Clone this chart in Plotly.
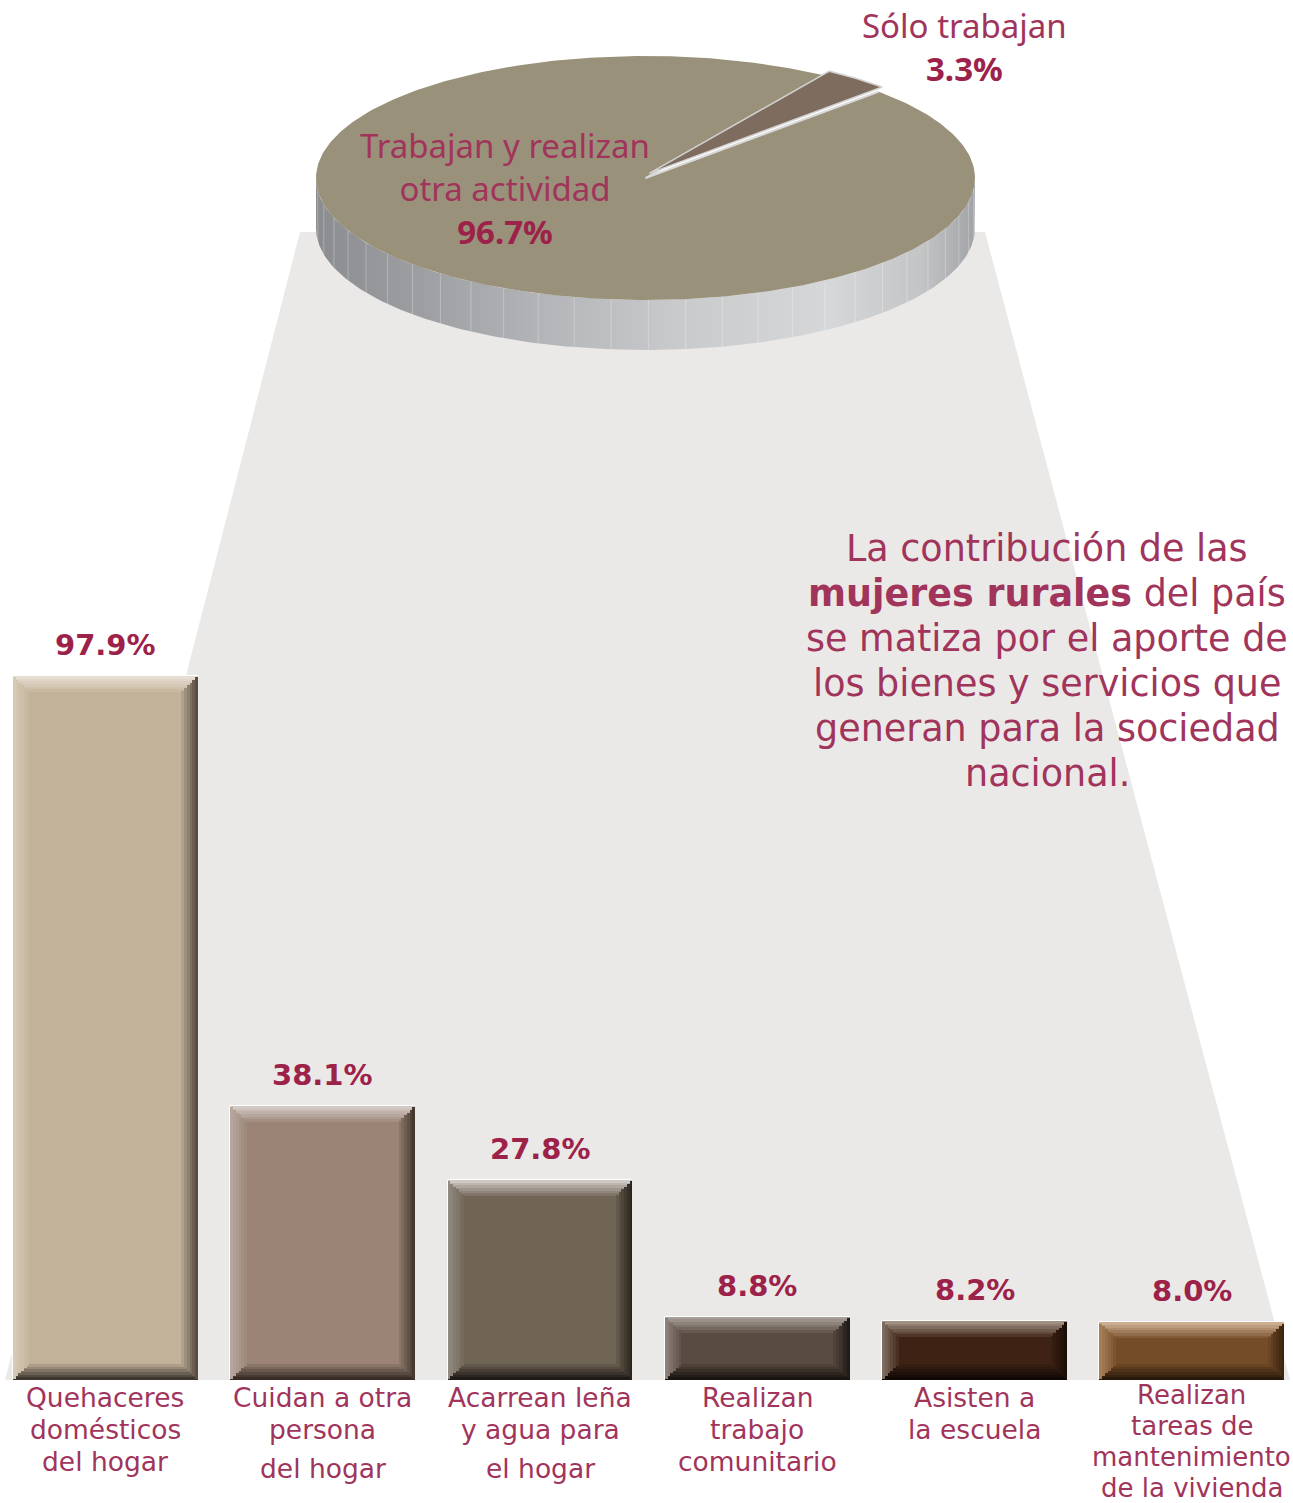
import numpy as np
import plotly.graph_objects as go

W, H = 1293, 1503

# ---------------- data ----------------
pie_labels = ["Trabajan y realizan otra actividad", "Sólo trabajan"]
pie_values = [96.7, 3.3]
pie_text_main = ["Trabajan y realizan", "otra actividad"]
pie_text_small = ["Sólo trabajan"]

categories = [
    "Quehaceres domésticos del hogar",
    "Cuidan a otra persona del hogar",
    "Acarrean leña y agua para el hogar",
    "Realizan trabajo comunitario",
    "Asisten a la escuela",
    "Realizan tareas de mantenimiento de la vivienda",
]
category_lines = [
    ["Quehaceres", "domésticos", "del hogar"],
    ["Cuidan a otra", "persona", "del hogar"],
    ["Acarrean leña", "y agua para", "el hogar"],
    ["Realizan", "trabajo", "comunitario"],
    ["Asisten a", "la escuela"],
    ["Realizan", "tareas de", "mantenimiento", "de la vivienda"],
]
values = [97.9, 38.1, 27.8, 8.8, 8.2, 8.0]
value_labels = ["97.9%", "38.1%", "27.8%", "8.8%", "8.2%", "8.0%"]

paragraph_lines = [
    "La contribución de las",
    "<b>mujeres rurales</b> del país",
    "se matiza por el aporte de",
    "los bienes y servicios que",
    "generan para la sociedad",
    "nacional.",
]

# ---------------- styles ----------------
MAROON = "#9c2249"
MAROON_L = "#a1345b"
GRAY_BG = "#ebe9e7"

bar_base = ["#c2b299", "#9b8476", "#706455", "#594b41", "#3e2314", "#744c28"]
bar_top = ["#e6ded2", "#d3c9c4", "#cdc8c3", "#a89f98", "#a09083", "#cbad90"]
bar_left = ["#d6cab6", "#b6a69d", "#918a80", "#8c817a", "#7e6c60", "#a47d59"]
bar_right = ["#574d42", "#44382f", "#2b251f", "#221c18", "#1a0e07", "#3c240f"]
bar_bottom = ["#3e3630", "#372c26", "#1f1a16", "#19140f", "#0f0703", "#29190a"]


def hex2rgb(h):
    h = h.lstrip("#")
    return np.array([int(h[i:i + 2], 16) for i in (0, 2, 4)], dtype=float)


def mix(c1, c2, t):
    a, b = hex2rgb(c1), hex2rgb(c2)
    c = a + (b - a) * t
    return "rgb(%d,%d,%d)" % tuple(np.round(c).astype(int))


fig = go.Figure()

# ---------------- pie (3D-looking ellipse) ----------------
CX, CY, RX, RY, DEPTH = 645.5, 178.0, 329.5, 122.0, 50.0
START = 45.0
spans = [v / sum(pie_values) * 360.0 for v in pie_values]
small_a0 = START
small_a1 = START + spans[1]
main_a0 = small_a1
main_a1 = START + 360.0


def ept(theta, ox=0.0, oy=0.0, dy=0.0):
    t = np.radians(theta)
    return CX + ox + RX * np.cos(t), CY + oy - RY * np.sin(t) + dy


# side (front half)
th = np.linspace(180, 360, 181)
sx_top, sy_top = ept(th)
sx_bot, sy_bot = ept(th[::-1], dy=DEPTH)
fig.add_trace(go.Scatter(
    x=np.concatenate([sx_top, sx_bot]), y=np.concatenate([sy_top, sy_bot]),
    fill="toself", mode="lines", line=dict(width=0),
    fillgradient=dict(type="horizontal", colorscale=[
        [0, "#8b8c90"], [0.35, "#b4b5b8"], [0.55, "#c9cacc"], [0.78, "#d6d7d9"],
        [0.92, "#c3c4c6"], [1, "#a2a3a6"]]),
    hoverinfo="skip", showlegend=False, xaxis="x", yaxis="y"))

# side stripes
st_x, st_y = [], []
for t in np.arange(186, 360, 6.5):
    x0, y0 = ept(t)
    st_x += [x0, x0, None]
    st_y += [y0, y0 + DEPTH, None]
fig.add_trace(go.Scatter(x=st_x, y=st_y, mode="lines",
                         line=dict(color="rgba(255,255,255,0.28)", width=1),
                         hoverinfo="skip", showlegend=False, xaxis="x", yaxis="y"))

# main slice
tm = np.linspace(main_a0, main_a1, 400)
mx, my = ept(tm)
fig.add_trace(go.Scatter(
    x=np.concatenate([[CX], mx, [CX]]), y=np.concatenate([[CY], my, [CY]]),
    fill="toself", fillcolor="#9a917a", mode="lines", line=dict(width=0),
    hoverinfo="skip", showlegend=False, xaxis="x", yaxis="y"))
# radial edges of main slice
e0x, e0y = ept(main_a0)
e1x, e1y = ept(main_a1)
fig.add_trace(go.Scatter(x=[e0x, CX, e1x], y=[e0y, CY, e1y], mode="lines",
                         line=dict(color="#d9d9d9", width=2),
                         hoverinfo="skip", showlegend=False, xaxis="x", yaxis="y"))

# small slice (exploded)
mid = np.radians((small_a0 + small_a1) / 2)
OX, OY = 6 * np.cos(mid), -6 * np.sin(mid)
ts = np.linspace(small_a0, small_a1, 60)
px_, py_ = ept(ts, OX, OY)
fig.add_trace(go.Scatter(
    x=np.concatenate([[CX + OX], px_, [CX + OX]]), y=np.concatenate([[CY + OY], py_, [CY + OY]]),
    fill="toself", fillcolor="#7e6c5f", mode="lines", line=dict(color="#d2d2d2", width=1.5),
    hoverinfo="skip", showlegend=False, xaxis="x", yaxis="y"))

# ---------------- bars with bevel ----------------
BW = 0.851
N = 6
DX = 0.076 / N
DY = 2.2 / N
common = dict(x=categories, xaxis="x2", yaxis="y2", hoverinfo="skip", showlegend=False)

fig.add_trace(go.Bar(y=values, width=BW, marker=dict(color=bar_base, line=dict(color="white", width=1)), **common))

for k in range(N):
    t = k / N
    tops = [mix(a, b, t) for a, b in zip(bar_top, bar_base)]
    bots = [mix(a, b, t) for a, b in zip(bar_bottom, bar_base)]
    lefts = [mix(a, b, t) for a, b in zip(bar_left, bar_base)]
    rights = [mix(a, b, t) for a, b in zip(bar_right, bar_base)]
    w_h = BW - 2 * k * DX
    # top strip
    fig.add_trace(go.Bar(y=[DY] * 6, base=[v - (k + 1) * DY for v in values],
                         width=w_h, offset=-BW / 2 + k * DX,
                         marker=dict(color=tops, line=dict(width=0)), **common))
    # bottom strip
    fig.add_trace(go.Bar(y=[DY] * 6, base=[k * DY] * 6,
                         width=w_h, offset=-BW / 2 + k * DX,
                         marker=dict(color=bots, line=dict(width=0)), **common))
    # left strip
    fig.add_trace(go.Bar(y=[v - 2 * (k + 0.5) * DY for v in values], base=[(k + 0.5) * DY] * 6,
                         width=DX, offset=-BW / 2 + k * DX,
                         marker=dict(color=lefts, line=dict(width=0)), **common))
    # right strip
    fig.add_trace(go.Bar(y=[v - 2 * (k + 0.5) * DY for v in values], base=[(k + 0.5) * DY] * 6,
                         width=DX, offset=BW / 2 - (k + 1) * DX,
                         marker=dict(color=rights, line=dict(width=0)), **common))

# ---------------- annotations ----------------
ann = []
PIE_FONT = 33
main_txt = "<br>".join(pie_text_main) + "<br><b><span style='color:%s'>%.1f%%</span></b>" % (MAROON, pie_values[0])
ann.append(dict(x=505, y=188, xref="x", yref="y", text=main_txt, showarrow=False,
                font=dict(family="Noto Sans", size=PIE_FONT, color=MAROON_L)))
small_txt = pie_text_small[0] + "<br><b><span style='color:%s'>%.1f%%</span></b>" % (MAROON, pie_values[1])
ann.append(dict(x=964, y=46.5, xref="x", yref="y", text=small_txt, showarrow=False,
                font=dict(family="Noto Sans", size=PIE_FONT, color=MAROON_L)))

# paragraph
for i, line in enumerate(paragraph_lines):
    ann.append(dict(x=1047, y=548 + 45 * i, xref="x", yref="y", text=line, showarrow=False,
                    font=dict(family="DejaVu Sans", size=36.5, color=MAROON_L)))

# value labels
for c, v, lab in zip(categories, values, value_labels):
    ann.append(dict(x=c, y=v, xref="x2", yref="y2", text="<b>%s</b>" % lab, showarrow=False,
                    yshift=31, font=dict(family="DejaVu Sans", size=29, color=MAROON)))

# category labels
for ci, (c, lines) in enumerate(zip(categories, category_lines)):
    for li, line in enumerate(lines):
        if ci == 5:
            yy = 1395 + 31 * li
        elif ci in (1, 2) and li == 2:
            yy = 1468
        else:
            yy = 1397 + 32 * li
        ann.append(dict(x=c, y=yy, xref="x2", yref="y", text=line, showarrow=False,
                        font=dict(family="DejaVu Sans", size=26.5 if ci != 5 else 26,
                                  color=MAROON_L)))

fig.update_layout(
    width=W, height=H, margin=dict(l=0, r=0, t=0, b=0),
    paper_bgcolor="white", plot_bgcolor="rgba(0,0,0,0)",
    barmode="overlay", bargap=0,
    xaxis=dict(range=[0, W], domain=[0, 1], visible=False, fixedrange=True),
    yaxis=dict(range=[H, 0], domain=[0, 1], visible=False, fixedrange=True),
    xaxis2=dict(domain=[0, 1], range=[-0.485, 5.465], anchor="y2", visible=False,
                type="category", fixedrange=True),
    yaxis2=dict(domain=[(H - 1380) / H, (H - 1380 + 719) / H], range=[0, 100], anchor="x2",
                visible=False, fixedrange=True),
    shapes=[dict(type="path", xref="x", yref="y", layer="below",
                 path="M 300,232 L 985,232 L 1290,1380 L 5,1380 Z",
                 fillcolor=GRAY_BG, line=dict(width=0))],
    annotations=ann,
    showlegend=False,
)

fig.write_html("out.html", config={"displayModeBar": False},
               post_script="document.body.style.margin='0';document.body.style.overflow='hidden';")
